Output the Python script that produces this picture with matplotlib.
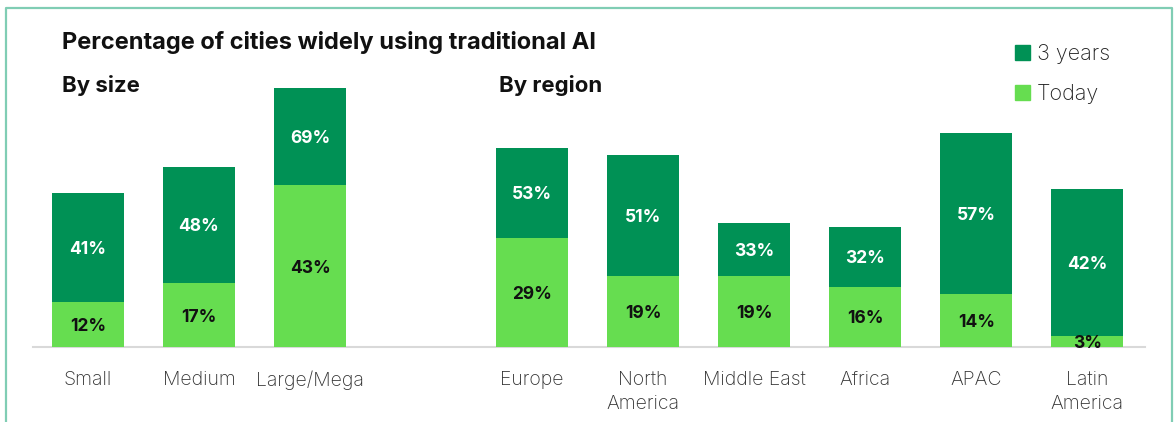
import matplotlib.pyplot as plt
from matplotlib.lines import Line2D
from matplotlib.patches import Patch

# data
categories = ["Small", "Medium", "Large/Mega",
              "Europe", "North\nAmerica", "Middle East", "Africa", "APAC", "Latin\nAmerica"]
positions = [0, 1, 2, 4, 5, 6, 7, 8, 9]
three_years = [41, 48, 69, 53, 51, 33, 32, 57, 42]
today = [12, 17, 43, 29, 19, 19, 16, 14, 3]

dark = "#009155"
light = "#66dd50"
border = "#80cdb4"
fam = ['Inter', 'DejaVu Sans']

plt.rcParams['font.family'] = fam

fig = plt.figure(figsize=(11.74, 4.22), dpi=100)
ax = fig.add_axes([33 / 1174, 75 / 422, 1112 / 1174, 282 / 422])

width = 0.65
ax.bar(positions, three_years, width=width, color=dark, zorder=2)
ax.bar(positions, today, width=width, color=light, zorder=3)

# value labels
for x, t, d in zip(positions, three_years, today):
    ax.text(x, (t + d) / 2, f"{t}%", ha='center', va='center_baseline', color='white',
            fontsize=12.5, fontweight='bold', zorder=4)
    ax.text(x, d / 2, f"{d}%", ha='center', va='center_baseline', color='#111111',
            fontsize=12.5, fontweight='bold', zorder=4)

ax.set_xlim(-0.495, 9.52)
ax.set_ylim(0, 75)
ax.set_xticks(positions)
ax.set_xticklabels(categories, fontsize=14, color='#333333', fontweight='light',
                   linespacing=1.45, va='top')
ax.tick_params(axis='x', length=0, pad=17)
ax.set_yticks([])
for side in ['top', 'right', 'left']:
    ax.spines[side].set_visible(False)
ax.spines['bottom'].set_color('#d9d9d9')
ax.spines['bottom'].set_linewidth(1.5)

# headings
fig.text(62 / 1174, 1 - 43 / 422, "Percentage of cities widely using traditional AI",
         fontsize=17, fontweight='bold', color='#111111', va='center')
fig.text(62 / 1174, 1 - 86 / 422, "By size", fontsize=16, fontweight='bold',
         color='#111111', va='center')
fig.text(499 / 1174, 1 - 86 / 422, "By region", fontsize=16, fontweight='bold',
         color='#111111', va='center')

# legend
handles = [Patch(color=dark, label="3 years"), Patch(color=light, label="Today")]
fig.legend(handles=handles, loc='upper left', bbox_to_anchor=(996 / 1174, 1 - 25 / 422),
           frameon=False, handlelength=0.7, handleheight=0.7,
           handletextpad=0.3, labelspacing=0.9, labelcolor='#222222',
           prop={'family': fam, 'weight': 'light', 'size': 15.5})

# outer frame (left, top, right)
x0, x1, y1 = 5.5 / 1174, 1171.5 / 1174, 1 - 7.5 / 422
fig.add_artist(Line2D([x0, x0, x1, x1], [0, y1, y1, 0], color=border, lw=1.6,
                      transform=fig.transFigure))

fig.savefig("out.png", dpi=100)
